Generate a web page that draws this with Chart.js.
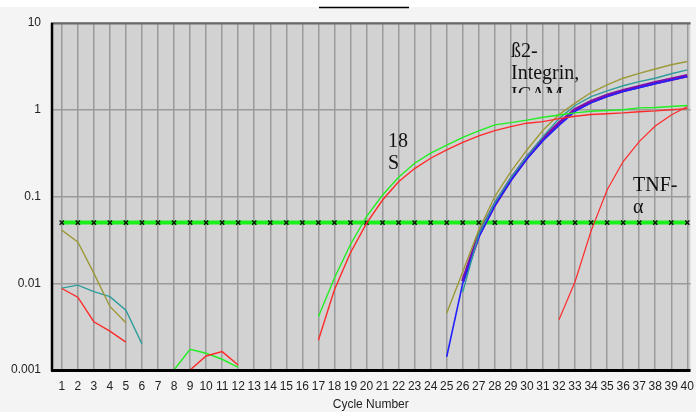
<!DOCTYPE html>
<html>
<head>
<meta charset="utf-8">
<script src="https://cdn.jsdelivr.net/npm/chart.js@4.4.1/dist/chart.umd.min.js"></script>
<style>
  html, body { margin: 0; padding: 0; background: #f4f4f4; }
  #wrap { width: 696px; height: 412px; }
</style>
</head>
<body>
<div id="wrap"><canvas id="pcr-chart" width="696" height="412"></canvas></div>
<script>
// amplification plot, log fluorescence vs cycle
const cycles = [1, 2, 3, 4, 5, 6, 7, 8, 9, 10, 11, 12, 13, 14, 15, 16, 17, 18, 19, 20,
  21, 22, 23, 24, 25, 26, 27, 28, 29, 30, 31, 32, 33, 34, 35, 36, 37, 38, 39, 40];

const yTicks = [0.001, 0.01, 0.1, 1, 10];
const yTickLabels = ["0.001", "0.01", "0.1", "1", "10"];

const THRESHOLD = 0.05;

const _ = null;

const olive = [0.041, 0.030, 0.0131, 0.0054, 0.0035, _, _, _, _, _,
  _, _, _, _, _, _, _, _, _, _,
  _, _, _, _, 0.0045, 0.0136, 0.041, 0.100, 0.194, 0.344,
  0.58, 0.88, 1.19, 1.58, 1.94, 2.31, 2.63, 2.95, 3.3, 3.6];

const teal = [0.0088, 0.0095, 0.0080, 0.0070, 0.0049, 0.0020, _, _, _, _,
  _, _, _, _, _, _, _, _, _, _,
  _, _, _, _, _, 0.0079, 0.037, 0.085, 0.165, 0.29,
  0.49, 0.79, 1.12, 1.42, 1.65, 1.89, 2.11, 2.31, 2.6, 2.88];

const purple = [_, _, _, _, _, _, _, _, _, _,
  _, _, _, _, _, _, _, _, _, _,
  _, _, _, _, _, 0.0105, 0.036, 0.081, 0.158, 0.28,
  0.46, 0.70, 1.0, 1.24, 1.46, 1.66, 1.85, 2.05, 2.25, 2.47];

const blue = [_, _, _, _, _, _, _, _, _, _,
  _, _, _, _, _, _, _, _, _, _,
  _, _, _, _, 0.00142, 0.0100, 0.034, 0.079, 0.153, 0.273,
  0.44, 0.66, 0.96, 1.2, 1.42, 1.62, 1.8, 2.0, 2.2, 2.42];

const green18S = [_, _, _, _, _, _, _, 0.0010, 0.00173, 0.00156,
  0.00133, 0.00107, _, _, _, _, 0.0041, 0.0115, 0.028, 0.0587,
  0.104, 0.167, 0.242, 0.316, 0.39, 0.48, 0.57, 0.67, 0.71, 0.76,
  0.82, 0.87, 0.92, 0.96, 0.98, 1.0, 1.05, 1.06, 1.09, 1.12];

const red18S = [0.0087, 0.0069, 0.0036, 0.0028, 0.0021, _, _, _, 0.0010, 0.00145,
  0.00163, 0.00114, _, _, _, _, 0.0022, 0.0084, 0.0225, 0.049,
  0.091, 0.148, 0.21, 0.276, 0.344, 0.42, 0.50, 0.575, 0.64, 0.70,
  0.73, 0.79, 0.84, 0.88, 0.90, 0.92, 0.95, 0.97, 1.0, 1.03];

const redTNF = [_, _, _, _, _, _, _, _, _, _,
  _, _, _, _, _, _, _, _, _, _,
  _, _, _, _, _, _, _, _, _, _,
  _, 0.0038, 0.0104, 0.040, 0.119, 0.253, 0.43, 0.65, 0.87, 1.09];

const notes = [
  { lines: ["ß2-", "Integrin,", "ICAM"], x: 511, y: 57, clipBottom: 93 },
  { lines: ["18", "S"], x: 388, y: 147, clipBottom: 412 },
  { lines: ["TNF-", "α"], x: 633, y: 191, clipBottom: 214 },
];

const line = (data, color, width) => ({
  data: data,
  borderColor: color,
  borderWidth: width,
  pointRadius: 0,
  tension: 0,
  fill: false,
});

const chartBg = {
  id: "chartBg",
  beforeDraw(chart) {
    const { ctx, chartArea: a } = chart;
    ctx.save();
    ctx.fillStyle = "#f4f4f4";
    ctx.fillRect(0, 0, chart.width, chart.height);
    ctx.fillStyle = "#ffffff";
    ctx.fillRect(0, 0, chart.width, 7);
    ctx.fillStyle = "#d2d2d2";
    ctx.fillRect(a.left, a.top, a.right - a.left, a.bottom - a.top);
    ctx.restore();
  },
  afterDraw(chart) {
    const { ctx, chartArea: a } = chart;
    ctx.save();
    // frame
    ctx.strokeStyle = "#6a6a6a";
    ctx.lineWidth = 2;
    ctx.beginPath();
    ctx.moveTo(a.left, a.top + 0.5);
    ctx.lineTo(a.right, a.top + 0.5);
    ctx.stroke();
    ctx.strokeStyle = "#000";
    ctx.lineWidth = 2.5;
    ctx.beginPath();
    ctx.moveTo(a.left + 1, a.top);
    ctx.lineTo(a.left + 1, a.bottom + 1);
    ctx.stroke();
    ctx.lineWidth = 3;
    ctx.beginPath();
    ctx.moveTo(a.left, a.bottom + 0.5);
    ctx.lineTo(a.right, a.bottom + 0.5);
    ctx.stroke();
    // title stub
    ctx.lineWidth = 1.5;
    ctx.beginPath();
    ctx.moveTo(319, 7.5);
    ctx.lineTo(409, 7.5);
    ctx.stroke();
    // labels on the curves
    ctx.fillStyle = "#111";
    ctx.font = "20px 'Liberation Serif', 'DejaVu Serif', serif";
    ctx.textBaseline = "alphabetic";
    notes.forEach((n) => {
      ctx.save();
      ctx.beginPath();
      ctx.rect(n.x - 5, n.y - 30, 120, n.clipBottom - (n.y - 30));
      ctx.clip();
      n.lines.forEach((t, i) => ctx.fillText(t, n.x, n.y + i * 22));
      ctx.restore();
    });
    ctx.restore();
  },
};

new Chart(document.getElementById("pcr-chart"), {
  type: "line",
  data: {
    labels: cycles,
    datasets: [
      line(red18S, "#ff2a2a", 1.4),
      line(green18S, "#22ee22", 1.4),
      line(redTNF, "#ff2a2a", 1.2),
      line(olive, "#9c9a38", 1.4),
      line(teal, "#2f9c9c", 1.4),
      line(blue, "#2222ff", 1.6),
      line(purple, "#8010a8", 3.5),
      {
        data: cycles.map((c) => ({ x: c, y: THRESHOLD })),
        borderColor: "#1cf01c",
        borderWidth: 4,
        pointStyle: "crossRot",
        pointRadius: 3,
        pointBorderColor: "#111",
        pointBorderWidth: 1.5,
        tension: 0,
      },
    ],
  },
  options: {
    responsive: false,
    animation: false,
    layout: { padding: { top: 23, right: 0, bottom: 0, left: 0 } },
    plugins: { legend: { display: false }, tooltip: { enabled: false } },
    scales: {
      x: {
        type: "linear",
        min: 0.33,
        max: 40.2,
        afterBuildTicks: (scale) => {
          scale.ticks = cycles.map((c) => ({ value: c }));
        },
        afterFit: (scale) => {
          scale.height = 42;
          scale.paddingLeft = 0;
          scale.paddingRight = 0;
        },
        grid: { color: "#9a9a9a", lineWidth: 1.5, drawTicks: false },
        border: { display: false },
        ticks: {
          autoSkip: false,
          maxRotation: 0,
          padding: 9,
          color: "#222",
          font: { family: "'Liberation Sans', Arial, sans-serif", size: 12 },
          callback: (v) => String(v),
        },
        title: {
          display: true,
          text: "Cycle Number",
          color: "#222",
          padding: { top: 0, bottom: 0 },
          font: { family: "'Liberation Sans', Arial, sans-serif", size: 12 },
        },
      },
      y: {
        type: "logarithmic",
        min: 0.001,
        max: 10,
        afterBuildTicks: (scale) => {
          scale.ticks = yTicks.map((v) => ({ value: v }));
        },
        afterFit: (scale) => {
          scale.width = 51;
          scale.paddingTop = 0;
          scale.paddingBottom = 0;
        },
        grid: { color: "#9a9a9a", lineWidth: 1.5, drawTicks: false },
        border: { display: false },
        ticks: {
          padding: 10,
          color: "#222",
          font: { family: "'Liberation Sans', Arial, sans-serif", size: 12 },
          callback: (v) => yTickLabels[yTicks.indexOf(v)],
        },
      },
    },
  },
  plugins: [chartBg],
});
</script>
</body>
</html>
